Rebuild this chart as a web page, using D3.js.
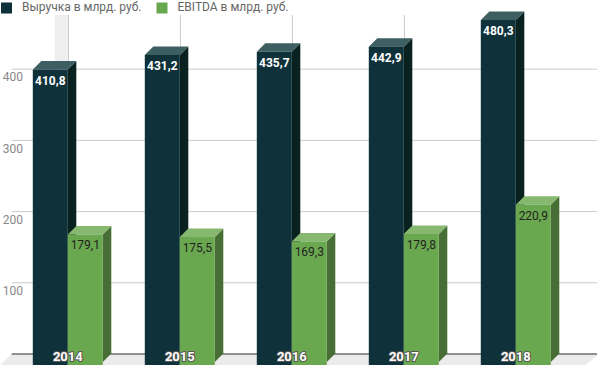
<!DOCTYPE html>
<html>
<head>
<meta charset="utf-8">
<script src="https://cdn.jsdelivr.net/npm/d3@7"></script>
<style>
  body { margin: 0; background: #fff; }
  svg { display: block; font-family: Roboto, 'Noto Sans', sans-serif; }
</style>
</head>
<body>
<div id="chart"></div>
<script>
// data
const years = ['2014', '2015', '2016', '2017', '2018'];
const revenue = [410.8, 431.2, 435.7, 442.9, 480.3];
const ebitda = [179.1, 175.5, 169.3, 179.8, 220.9];
const seriesNames = ['Выручка в млрд. руб.', 'EBITDA в млрд. руб.'];
const yTicks = [100, 200, 300, 400];

const W = 597, H = 365;
const depth = 8.5; // 3d offset, up and right

const colors = [
    { front: '#0e313a', side: '#09211f', top: '#3d5f61', label: '#ffffff', weight: 'bold' },
    { front: '#6aa84f', side: '#476e34', top: '#87b86f', label: '#222222', weight: 'normal' }
];

const svg = d3.select('#chart').append('svg')
        .attr('width', W)
        .attr('height', H);

const x0 = d3.scaleBand()
        .domain(years)
        .range([11.8, 571.8]);

const x1 = d3.scaleBand()
        .domain([0, 1])
        .range([0, 70]);

const y = d3.scaleLinear()
        .domain([0, 500])
        .range([362, 6]);

const backLeft = 11.7, backRight = 600;

// floor
svg.append('path')
        .attr('d', d3.line()([
            [backLeft, y(0) - depth], [backRight, y(0) - depth],
            [backRight - 16, H + 1], [backLeft - 12, H + 1]
        ]))
        .attr('fill', '#ebebeb');

// horizontal gridlines on back wall
svg.selectAll('line.grid')
        .data(yTicks)
        .enter()
        .append('line')
        .attr('class', 'grid')
        .attr('x1', backLeft)
        .attr('x2', backRight)
        .attr('y1', d => y(d) - depth + 0.5)
        .attr('y2', d => y(d) - depth + 0.5)
        .attr('stroke', '#cccccc')
        .attr('stroke-width', 1);

// vertical category lines on back wall
const cx = d => x0(d) + x0.bandwidth() / 2;
svg.append('rect')
        .attr('x', cx(years[0]) - 13)
        .attr('y', 15)
        .attr('width', 13)
        .attr('height', y(0) - depth - 15)
        .attr('fill', '#efefef');

svg.selectAll('line.vgrid')
        .data(years)
        .enter()
        .append('line')
        .attr('class', 'vgrid')
        .attr('x1', d => Math.round(cx(d)) + 0.5)
        .attr('x2', d => Math.round(cx(d)) + 0.5)
        .attr('y1', 15)
        .attr('y2', y(0) - depth)
        .attr('stroke', '#cccccc')
        .attr('stroke-width', 1);

// back baseline
svg.append('line')
        .attr('x1', backLeft)
        .attr('x2', backRight)
        .attr('y1', y(0) - depth + 0.5)
        .attr('y2', y(0) - depth + 0.5)
        .attr('stroke', '#333333')
        .attr('stroke-width', 1.2);

// y axis labels (front plane)
svg.selectAll('text.ytick')
        .data(yTicks)
        .enter()
        .append('text')
        .attr('class', 'ytick')
        .attr('x', 23)
        .attr('y', d => y(d))
        .attr('dy', '0.35em')
        .attr('text-anchor', 'end')
        .style('font-size', '12px')
        .style('fill', '#888888')
        .text(d => d);

// bars
const bw = x1.bandwidth();
years.forEach(function (yr, i) {
    [revenue[i], ebitda[i]].forEach(function (v, s) {
        const c = colors[s];
        const bx = x0(yr) + x0.bandwidth() / 2 - 35 + x1(s);
        const yt = y(v), yb = y(0) + 4;
        const g = svg.append('g').attr('class', 'bar');

        g.append('path')
                .attr('d', d3.line()([
                    [bx + bw, yt], [bx + bw + depth, yt - depth],
                    [bx + bw + depth, y(0) - depth], [bx + bw, y(0)]
                ]) + 'Z')
                .attr('fill', c.side);
        g.append('path')
                .attr('d', d3.line()([
                    [bx, yt], [bx + depth, yt - depth],
                    [bx + bw + depth, yt - depth], [bx + bw, yt]
                ]) + 'Z')
                .attr('fill', c.top);
        g.append('rect')
                .attr('x', bx)
                .attr('y', yt)
                .attr('width', bw)
                .attr('height', yb - yt)
                .attr('fill', c.front);
        g.append('text')
                .attr('x', bx + bw / 2)
                .attr('y', yt + 15)
                .attr('text-anchor', 'middle')
                .style('font-size', '12px')
                .style('font-weight', c.weight)
                .style('fill', c.label)
                .text(d3.format('.1f')(v).replace('.', ','));
    });
});

// category labels on top of bars
svg.selectAll('text.cat')
        .data(years)
        .enter()
        .append('text')
        .attr('class', 'cat')
        .attr('x', d => cx(d))
        .attr('y', 361)
        .attr('text-anchor', 'middle')
        .style('font-size', '13px')
        .style('font-weight', 'bold')
        .style('fill', '#ffffff')
        .style('stroke', '#555555')
        .style('stroke-width', 2)
        .style('paint-order', 'stroke')
        .style('stroke-linejoin', 'round')
        .text(d => d);

// legend
const legend = svg.append('g').attr('class', 'legend');
const legendX = [1, 156.5];
seriesNames.forEach(function (name, i) {
    legend.append('rect')
            .attr('x', legendX[i])
            .attr('y', 2.5)
            .attr('width', 11)
            .attr('height', 11)
            .attr('fill', colors[i].front);
    legend.append('text')
            .attr('x', legendX[i] + 21)
            .attr('y', 11)
            .style('font-size', '12px')
            .style('fill', '#666666')
            .text(name);
});
</script>
</body>
</html>
